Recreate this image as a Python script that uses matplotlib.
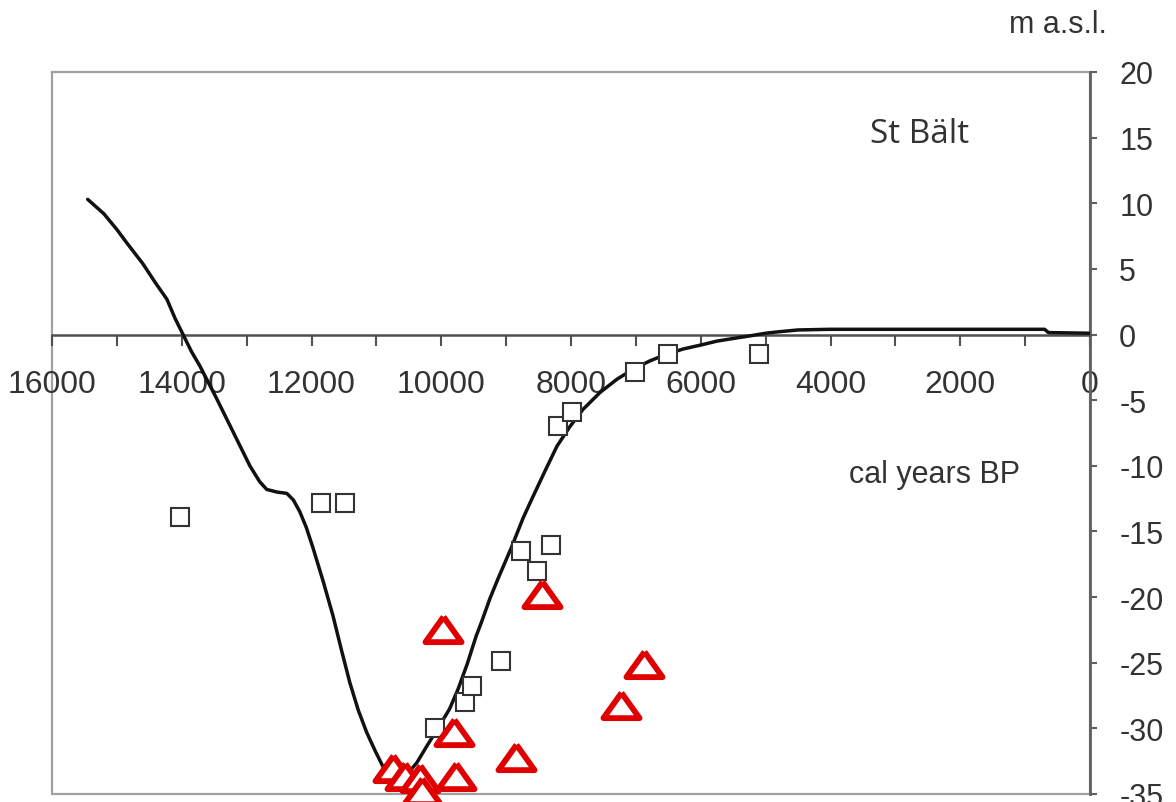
import matplotlib
matplotlib.use("Agg")
import matplotlib.pyplot as plt
from matplotlib.patches import Rectangle
from matplotlib.ticker import MultipleLocator, FuncFormatter

plt.rcParams['font.family'] = ['Liberation Sans', 'DejaVu Sans']
plt.rcParams['axes.unicode_minus'] = False

# Sea-level curve (cal years BP, m a.s.l.)
curve_years = [15450, 15200, 15000, 14850, 14600, 14400, 14230, 14100, 13980, 13850,
               13720, 13460, 13210, 12950, 12800, 12690, 12530, 12380, 12280, 12180,
               12080, 11980, 11820, 11670, 11540, 11410, 11280, 11150, 11020, 10900,
               10750, 10559, 10374, 10204, 10050, 9870, 9740, 9600, 9464, 9372,
               9249, 9125, 8925, 8740, 8601, 8401, 8216, 8015, 7815, 7550,
               7290, 7030, 6780, 6530, 6270, 6000, 5750, 5500, 5240, 5000,
               4820, 4500, 4000, 2000, 700, 640, 0]
curve_depth = [10.3, 9.2, 8.0, 7.0, 5.4, 3.9, 2.7, 1.2, 0.0, -1.3,
               -2.4, -4.9, -7.4, -10.0, -11.2, -11.8, -12.0, -12.1, -12.6, -13.5,
               -14.7, -16.2, -18.8, -21.4, -24.0, -26.5, -28.6, -30.3, -31.7, -32.9,
               -33.5, -33.7, -32.6, -31.2, -30.0, -28.5, -27.0, -25.1, -23.0, -21.8,
               -20.1, -18.6, -16.3, -14.0, -12.5, -10.4, -8.5, -7.0, -5.7, -4.4,
               -3.4, -2.6, -2.0, -1.5, -1.1, -0.8, -0.5, -0.3, -0.1, 0.1,
               0.2, 0.35, 0.4, 0.4, 0.4, 0.15, 0.1]

# Square data points
sq_years = [14030, 11850, 11480, 10100, 9630, 9530, 9080, 8770, 8520, 8310,
            8200, 7990, 7010, 6500, 5100]
sq_depth = [-13.9, -12.8, -12.8, -30.0, -28.0, -26.8, -24.9, -16.5, -18.0, -16.0,
            -7.0, -5.9, -2.85, -1.5, -1.5]

# Triangle data points
tri_years = [9970, 8450, 6880, 7230, 9800, 8850, 9770, 10740, 10560, 10330, 10300]
tri_depth = [-22.4, -19.8, -25.1, -28.2, -30.3, -32.2, -33.6, -33.0, -33.6, -33.8, -34.8]

x_major_ticks = [16000, 14000, 12000, 10000, 8000, 6000, 4000, 2000, 0]
y_ticks = [20, 15, 10, 5, 0, -5, -10, -15, -20, -25, -30, -35]

fig = plt.figure(figsize=(11.76, 8.03), dpi=100)
ax = fig.add_axes([52/1176, 1 - 795/803, (1090 - 52)/1176, (795 - 73)/803])

ax.set_xlim(16000, 0)
ax.set_ylim(-35, 20)

# frame (left/top/bottom light gray)
ax.add_patch(Rectangle((0, 0), 1, 1, transform=ax.transAxes, fill=False,
                       edgecolor='#a0a0a0', lw=1.6, zorder=0.5, clip_on=False))
for s in ['left', 'top']:
    ax.spines[s].set_visible(False)
ax.spines['bottom'].set_position(('data', 0))
ax.spines['bottom'].set_color('#505050')
ax.spines['bottom'].set_linewidth(1.8)
ax.spines['right'].set_color('#606060')
ax.spines['right'].set_linewidth(2.0)

ax.plot(curve_years, curve_depth, color='#111111', lw=2.5, zorder=3,
        solid_joinstyle='round', solid_capstyle='round')
ax.plot(sq_years, sq_depth, linestyle='none', marker='s', markersize=13.5,
        markerfacecolor='white', markeredgecolor='#333333', markeredgewidth=1.5,
        zorder=4, clip_on=False)
tri_marker = [(0, 0.7), (-1, -0.7), (1, -0.7), (0, 0.7)]
ax.plot(tri_years, tri_depth, linestyle='none', marker=tri_marker, markersize=26,
        markerfacecolor='white', markeredgecolor='#e00000', markeredgewidth=4.2,
        zorder=5, clip_on=False)

ax.set_xticks(x_major_ticks)
ax.xaxis.set_minor_locator(MultipleLocator(1000))
ax.xaxis.set_major_formatter(FuncFormatter(lambda v, p: f"{int(round(v))}"))
ax.tick_params(axis='x', which='both', direction='out', length=8, width=1.5,
               color='#505050', labelsize=23, pad=17, labelcolor='#333333')

ax.yaxis.tick_right()
ax.set_yticks(y_ticks)
ax.set_yticklabels([str(v) for v in y_ticks])
ax.tick_params(axis='y', which='both', direction='out', length=5, width=1.5,
               color='#606060', labelsize=22, pad=16, labelcolor='#333333')

ax.text(2620, 14.7, 'St Bält', ha='center', va='baseline', fontsize=24,
        family=['Open Sans', 'DejaVu Sans'], color='#333333')
ax.text(2390, -11.2, 'cal years BP', ha='center', va='baseline', fontsize=22,
        color='#333333')
fig.text(1058/1176, 1 - 33/803, 'm a.s.l.', ha='center', va='baseline',
         fontsize=22, color='#333333')

fig.savefig('out.png', dpi=100)
